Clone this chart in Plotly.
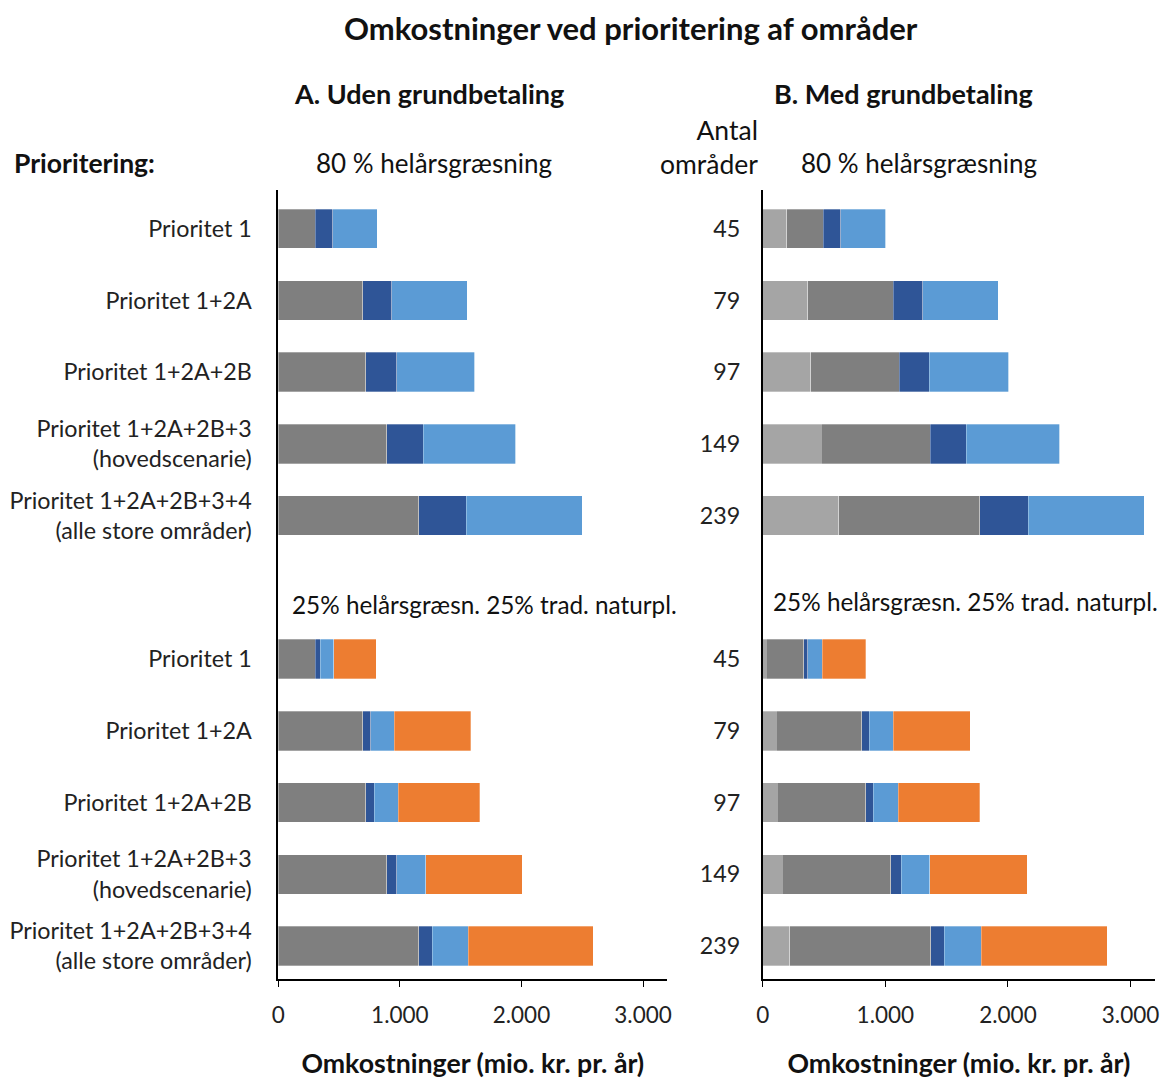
import plotly.graph_objects as go

# Kategorier og antal områder
kategorier = ["Prioritet 1", "Prioritet 1+2A", "Prioritet 1+2A+2B",
              "Prioritet 1+2A+2B+3<br>(hovedscenarie)",
              "Prioritet 1+2A+2B+3+4<br>(alle store områder)"]
antal = [45, 79, 97, 149, 239]

# A. Uden grundbetaling - 80 % helårsgræsning
a80_graa = [304, 695, 720, 892, 1155]
a80_moerkblaa = [145, 239, 255, 299, 392]
a80_lyseblaa = [364, 621, 642, 761, 952]
# A. Uden grundbetaling - 25 % helårsgræsn. 25 % trad. naturpl.
a25_graa = [304, 695, 720, 892, 1155]
a25_moerkblaa = [41, 64, 71, 83, 113]
a25_lyseblaa = [112, 196, 197, 238, 295]
a25_orange = [348, 630, 668, 794, 1027]

# B. Med grundbetaling - 80 % helårsgræsning
b80_lysgraa = [196, 367, 392, 478, 620]
b80_graa = [296, 699, 723, 887, 1152]
b80_moerkblaa = [144, 237, 242, 296, 395]
b80_lyseblaa = [367, 617, 650, 761, 946]
# B. Med grundbetaling - 25 % / 25 %
b25_lysgraa = [27, 108, 117, 158, 218]
b25_graa = [307, 700, 721, 886, 1152]
b25_moerkblaa = [33, 62, 62, 87, 112]
b25_lyseblaa = [117, 196, 204, 231, 299]
b25_orange = [354, 628, 668, 794, 1028]

FONT = "Lato"
W, H = 1163, 1079

# rækker: øverste blok 0-4, nederste blok 6-10 (række 5 er mellemrum)
n = len(kategorier)
rows_top = list(range(n))
rows_bot = [i + n + 1 for i in range(n)]
rows = rows_top + rows_bot

fig = go.Figure()


def add(vals_top, vals_bot, color, xa, ya):
    top = vals_top if vals_top is not None else [0] * n
    fig.add_trace(go.Bar(
        y=rows, x=list(top) + list(vals_bot), orientation="h",
        marker=dict(color=color, line=dict(color="rgba(255,255,255,0.6)", width=0.5)),
        width=0.55, xaxis=xa, yaxis=ya, showlegend=False))


add(a80_graa, a25_graa, "#7f7f7f", "x", "y")
add(a80_moerkblaa, a25_moerkblaa, "#2f5597", "x", "y")
add(a80_lyseblaa, a25_lyseblaa, "#5b9bd5", "x", "y")
add(None, a25_orange, "#ed7d31", "x", "y")

add(b80_lysgraa, b25_lysgraa, "#a5a5a5", "x2", "y2")
add(b80_graa, b25_graa, "#7f7f7f", "x2", "y2")
add(b80_moerkblaa, b25_moerkblaa, "#2f5597", "x2", "y2")
add(b80_lyseblaa, b25_lyseblaa, "#5b9bd5", "x2", "y2")
add(None, b25_orange, "#ed7d31", "x2", "y2")

ydom = [1 - 979 / H, 1 - 190 / H]
yrange = [10.46, -0.54]

xaxis_common = dict(
    range=[0, 3200], tickvals=[0, 1000, 2000, 3000], tickformat=",d",
    showline=True, linecolor="#000", linewidth=1.5, ticks="outside",
    ticklen=6, tickcolor="#000", showgrid=False, zeroline=False,
    ticklabelstandoff=9,
    tickfont=dict(family=FONT, size=22.5, color="#222"),
    title=dict(text="<b>Omkostninger (mio. kr. pr. år)</b>",
               font=dict(family=FONT, size=26.7, color="#111"), standoff=28),
)

yaxis_common = dict(
    domain=ydom, range=yrange, tickvals=rows,
    showline=True, linecolor="#000", linewidth=1.5,
    ticks="", showgrid=False, zeroline=False,
    tickfont=dict(family=FONT, size=23.3, color="#222"),
)

fig.update_layout(
    width=W, height=H,
    margin=dict(l=0, r=0, t=0, b=0),
    paper_bgcolor="white", plot_bgcolor="white",
    barmode="stack", bargap=0.45,
    separators=",.",
    font=dict(family=FONT, color="#111"),
    xaxis=dict(domain=[273.8 / W, 666.7 / W], anchor="y", **xaxis_common),
    xaxis2=dict(domain=[763 / W, 1159 / W], anchor="y2", **xaxis_common),
    yaxis=dict(anchor="x", ticktext=kategorier * 2, ticklabelstandoff=20, **yaxis_common),
    yaxis2=dict(anchor="x2", ticktext=[str(a) for a in antal] * 2,
                ticklabelstandoff=16, **yaxis_common),
)


def txt(text, x, y, size=21, bold=False, xanchor="center", align="center"):
    if bold:
        text = "<b>" + text + "</b>"
    fig.add_annotation(text=text, x=x / W, y=1 - y / H, xref="paper", yref="paper",
                       xanchor=xanchor, yanchor="middle", showarrow=False, align=align,
                       font=dict(family=FONT, size=size, color="#111"))


txt("Omkostninger ved prioritering af områder", 630, 28, size=31, bold=True)
txt("A. Uden grundbetaling", 426, 93, size=27, bold=True)
txt("B. Med grundbetaling", 905, 93, size=27, bold=True)
txt("Prioritering:", 5, 163, size=26.5, bold=True, xanchor="left")
txt("80 % helårsgræsning", 431, 163, size=26)
txt("80 % helårsgræsning", 921, 163, size=26)
txt("Antal<br>områder", 760, 147, size=26.5, xanchor="right", align="right")
txt("25% helårsgræsn. 25% trad. naturpl.", 482, 604, size=24.3)
txt("25% helårsgræsn. 25% trad. naturpl.", 968, 601, size=24.3)

fig.write_html("out.html", config={"displayModeBar": False},
               post_script="document.body.style.margin='0';")
